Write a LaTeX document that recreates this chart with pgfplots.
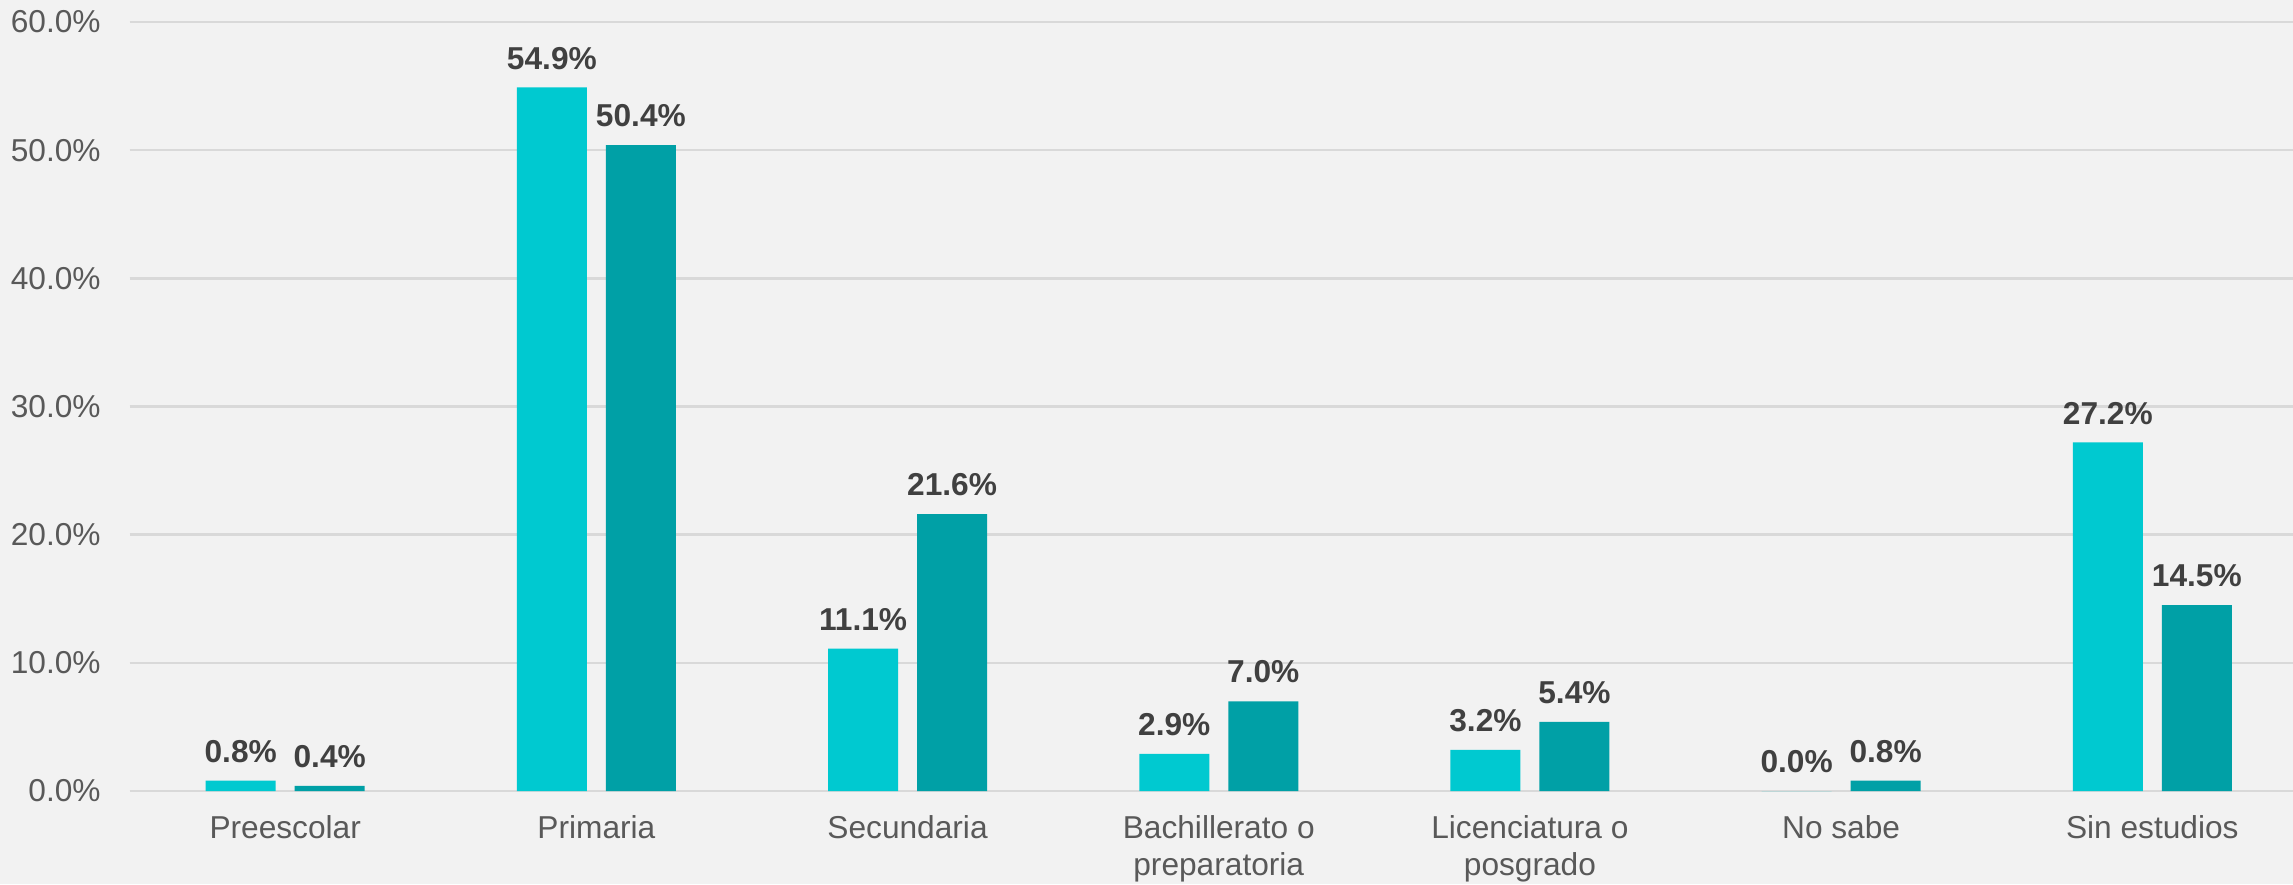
\documentclass[border=0pt]{standalone}
\usepackage{fontspec}
\setmainfont{Liberation Sans}
\usepackage{pgfplots}
\pgfplotsset{compat=1.18}
\definecolor{bg}{HTML}{F2F2F2}
\definecolor{gridc}{HTML}{D9D9D9}
\definecolor{cyanbar}{HTML}{00C9D0}
\definecolor{tealbar}{HTML}{00A0A6}
\definecolor{ticktext}{HTML}{595959}
\definecolor{labeltext}{HTML}{404040}
\begin{document}
\begin{tikzpicture}
% picture is 2293 x 884 px at 0.3pt per px
\fill[bg, use as bounding box] (0,0) rectangle (687.9pt,265.2pt);
\begin{axis}[
  at={(38.88pt,27.9pt)}, anchor=south west,
  scale only axis, width=649pt, height=230.7pt,
  ybar=5.7pt, bar width=21pt,
  xmin=-0.5, xmax=6.452, ymin=0, ymax=60,
  xtick={0,...,6},
  xticklabels={Preescolar, Primaria, Secundaria, {Bachillerato o\\preparatoria},
    {Licenciatura o\\posgrado}, No sabe, Sin estudios},
  ytick={0,10,...,60},
  yticklabel={\pgfmathprintnumber[fixed,fixed zerofill,precision=1]{\tick}\%},
  /pgf/number format/assume math mode=true,
  axis line style={draw=none},
  tick style={draw=none},
  ymajorgrids, grid style={gridc, line width=0.75pt},
  x tick label style={font=\fontsize{9.5}{11}\selectfont, text=ticktext,
    align=center, anchor=north, inner sep=0pt, yshift=-3pt},
  y tick label style={font=\fontsize{9.5}{11}\selectfont, text=ticktext,
    anchor=east, inner sep=0pt, xshift=-8.5pt},
  nodes near coords={\pgfmathprintnumber[fixed,fixed zerofill,precision=1,assume math mode=true]{\pgfplotspointmeta}\%},
  every node near coord/.append style={font=\bfseries\fontsize{9.5}{11}\selectfont,
    text=labeltext, anchor=south, inner sep=0pt, yshift=5.2pt},
]
\addplot[fill=cyanbar, draw=none] coordinates {
  (0,0.8) (1,54.9) (2,11.1) (3,2.9) (4,3.2) (5,0.0) (6,27.2)};
\addplot[fill=tealbar, draw=none] coordinates {
  (0,0.4) (1,50.4) (2,21.6) (3,7.0) (4,5.4) (5,0.8) (6,14.5)};
\end{axis}
\end{tikzpicture}
\end{document}
